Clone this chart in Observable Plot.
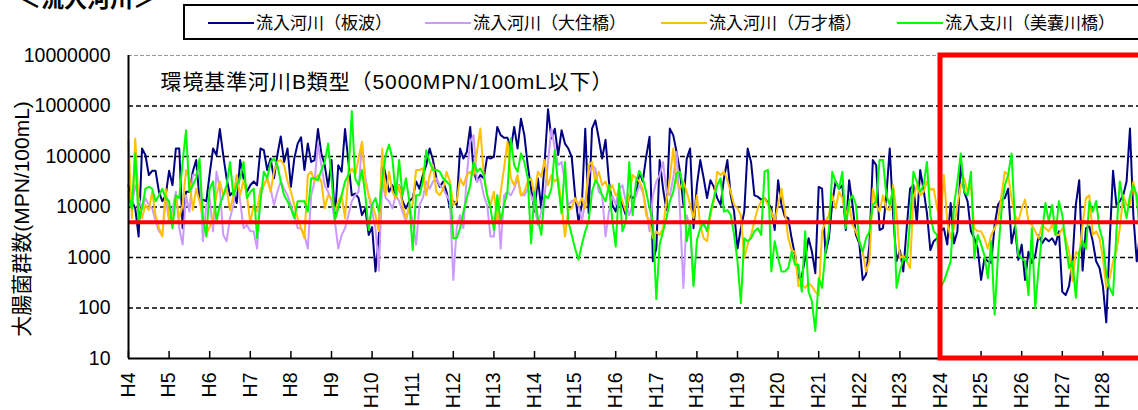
<!DOCTYPE html>
<html><head><meta charset="utf-8">
<script src="https://cdn.jsdelivr.net/npm/d3@7"></script>
<script src="https://cdn.jsdelivr.net/npm/@observablehq/plot@0.6"></script>
<style>
html,body{margin:0;padding:0;background:#fff;overflow:hidden;width:1138px;height:410px;}
#wrap{position:relative;width:1138px;height:410px;overflow:hidden;}
#chart{position:absolute;left:0;top:0;width:1150px;height:410px;}
#chart svg{max-width:none !important;width:1150px !important;height:410px !important;}
#title{position:absolute;left:18px;top:-14px;font-weight:bold;font-size:23px;font-family:"Noto Sans CJK JP";line-height:1;white-space:nowrap;}
#legend{position:absolute;left:183px;top:4px;width:1000px;height:36px;border:2px solid #000;box-sizing:border-box;background:#fff;}
.sw{position:absolute;top:16px;height:2px;width:46px;}
.lt{position:absolute;top:4px;font-family:"Noto Sans CJK JP";font-size:17px;line-height:24px;white-space:nowrap;}
</style></head>
<body><div id="wrap"><div id="chart"></div><div id="title">＜流入河川＞</div><div id="legend"></div></div>
<script>
// ---- data (monthly, from April of H4) ----
const seriesNames = ["流入河川（板波）", "流入河川（大住橋）", "流入河川（万才橋）", "流入支川（美嚢川橋）"];
const seriesColors = ["#000080", "#CC99FF", "#FFC000", "#00FF00"];

const itanami = [
27000,13000,9400,2600,144000,107000,43000,52000,52000,20000,13000,17000,
52000,27000,144000,144000,3800,20000,20000,50000,85000,14000,14000,13000,
46000,144000,107000,350000,107000,37000,17000,20000,12000,85000,37000,20000,
27000,32000,27000,144000,133000,54000,91000,37000,107000,250000,78000,144000,
25000,91000,180000,240000,54000,180000,78000,85000,350000,115000,67000,25000,
85000,6000,67000,50000,350000,78000,17000,18500,15000,6900,9400,2800,
4000,530,2800,
85000,43000,20000,27000,17000,27000,13000,9400,13000,15000,32000,
23000,43000,67000,144000,85000,37000,25000,32000,20000,9400,13000,11000,
144000,91000,123000,385000,50000,32000,43000,37000,98000,91000,98000,385000,
265000,235000,235000,144000,385000,144000,560000,265000,67000,23000,8100,37000,
9400,78000,860000,227000,355000,107000,330000,180000,144000,98000,17000,5200,
11000,355000,7500,355000,520000,227000,91000,215000,32000,11000,8100,17000,
11000,6900,
17000,15000,17000,50000,32000,98000,245000,840,1500,85000,
23000,8700,357000,265000,123000,50000,11000,91000,144000,3800,
27000,85000,37000,15000,34000,25000,15000,11000,37000,85000,
17000,8100,1500,3800,8100,144000,78000,17000,16000,14000,
15000,12000,9400,3500,34000,11000,6400,6000,2400,1100,
390,420,970,2400,1300,490,25000,23000,1200,2400,
12000,32000,23000,27000,3500,34000,11000,2800,1900,360,
460,1800,85000,67000,3500,
3800,17000,144000,6900,840,1400,530,3800,23000,27000,
4800,54000,22000,7500,1400,2100,2400,3300,3800,1800,
12000,1900,3300,78000,20000,13000,3300,2400,1500,360,
970,840,780,4400,11000,14000,15000,23000,1900,4100,
900,1800,360,1300,780,1100,2800,1900,2400,2100,
2400,1800,3300,210,180,270,840,11000,34000,550,
3800,4100,2100,840,620,270,52,2100,52000,11000,
13000,17000,32000,357000,6900,840,3000
];

const osumibashi = [
20000,11000,27000,15000,9400,15000,11000,9400,5200,3300,
2800,15000,5200,8700,20000,3800,1800,17000,8100,43000,
43000,67000,2100,11000,15000,3300,50000,23000,2800,2100,
6000,11000,43000,13000,3800,4400,3300,3300,1500,17000,
27000,37000,23000,11000,20000,32000,23000,17000,11000,6900,
3800,3800,2800,1500,17000,32000,180000,67000,27000,20000,
13000,5200,1500,2800,3800,6900,13000,17000,20000,195000,
37000,17000,8100,3800,550,
32000,15000,13000,9400,17000,13000,8100,5200,11000,5200,
1800,11000,15000,32000,23000,32000,37000,27000,23000,17000,
13000,360,3800,6900,3800,43000,195000,265000,32000,37000,
17000,11000,2600,2600,17000,1500,17000,20000,17000,23000,
37000,17000,17000,23000,17000,11000,4400,8100,17000,78000,
357000,144000,67000,78000,32000,11000,13000,14000,11000,5200,
13000,43000,67000,58000,20000,17000,2600,8100,17000,11000,
23000,27000,13000,
6900,11000,17000,27000,20000,9400,3300,17000,32000,43000,
78000,20000,17000,37000,123000,8100,250,6900,3800,290
];

const banzaibashi = [
200000,6000,227000,11000,6000,11000,8700,20000,6900,3800,
2600,23000,6000,5200,17000,6000,11000,54000,37000,8700,
23000,13000,6000,2800,4100,6000,17000,32000,17000,23000,
8700,17000,43000,17000,34000,17000,4800,11000,8100,23000,
27000,37000,20000,50000,78000,85000,67000,32000,20000,11000,
6000,3800,2400,43000,50000,32000,43000,32000,9400,17000,
15000,8100,13000,17000,6000,43000,58000,43000,91000,195000,
32000,17000,11000,6900,3300,
144000,17000,50000,20000,15000,27000,11000,6000,9400,11000,
54000,54000,58000,17000,43000,67000,20000,17000,23000,50000,
32000,11000,13000,37000,27000,43000,50000,43000,123000,357000,
43000,17000,11000,20000,5200,20000,58000,195000,37000,27000,
43000,17000,20000,32000,37000,17000,50000,40000,85000,27000,
43000,32000,37000,11000,2600,8700,9400,15000,11000,15000,
9400,67000,78000,32000,50000,27000,32000,20000,27000,17000,
20000,13000,8100,
17000,43000,37000,32000,23000,6900,5200,2400,3300,2800,
3800,13000,37000,144000,32000,23000,32000,20000,11000,6000,
17000,4400,2400,2100,6900,13000,50000,43000,50000,34000,
20000,11000,9400,6900,970,1800,2800,5200,9400,13000,
15000,11000,8100,5200,11000,23000,8100,2400,1400,1300,
270,290,250,310,270,210,180,3300,5200,6900,
17000,9400,20000,15000,6900,11000,4400,3300,2100,1300,
530,840,23000,11000,8100,
17000,9400,8700,27000,8100,970,1100,840,620,15000,
27000,17000,20000,32000,22000,23000,9400,5200,43000,5200,
2400,3800,11000,27000,37000,20000,27000,3800,3300,3300,
2400,1500,2800,3800,5200,17000,50000,43000,15000,6900,
5200,9400,14000,5200,4400,3300,2400,4400,3800,3300,
4400,2800,2800,3800,2400,1300,340,1300,1100,4400,
15000,17000,2800,3300,2400,970,250,390,840,1300,
3800,17000,11000,11000,32000,13000,6900
];

const minogawabashi = [
17000,9400,115000,5200,9400,23000,25000,23000,13000,17000,
23000,15000,13000,3800,17000,15000,78000,330000,20000,27000,
37000,91000,6000,2600,23000,32000,5200,11000,17000,27000,
78000,17000,27000,37000,78000,15000,20000,23000,2400,13000,
50000,37000,78000,91000,67000,32000,17000,13000,9400,6000,
13000,13000,13000,8100,37000,37000,34000,54000,78000,180000,
37000,5500,9400,17000,32000,43000,785000,37000,27000,54000,
17000,3500,11000,15000,8100,
32000,107000,172000,91000,17000,85000,17000,37000,13000,1400,
17000,17000,32000,133000,78000,54000,54000,50000,37000,32000,
27000,2400,2400,3800,8100,15000,27000,78000,50000,58000,
43000,17000,9400,3500,17000,5200,11000,20000,227000,67000,
50000,115000,78000,37000,1900,20000,6000,2800,17000,15000,
23000,133000,27000,7500,78000,5200,2800,1500,900,1800,
3300,5200,20000,34000,27000,17000,13000,27000,5500,1650,
29000,3300,5200,
78000,6900,32000,52000,37000,20000,9400,5200,150,1800,
3300,6000,13000,20000,46000,50000,23000,2100,4800,270,
2200,3800,4800,3300,8100,15000,27000,37000,8100,8700,
6900,2800,840,125,2400,2100,2400,3300,3800,2800,
50000,54000,530,2100,970,530,530,620,1300,720,
720,210,3300,210,135,35,390,250,1300,3300,
50000,32000,23000,50000,3800,13000,17000,11000,2100,1300,
2400,3300,11000,13000,85000,
85000,17000,11000,23000,250,530,970,840,5200,50000,
32000,20000,27000,78000,6900,3300,2800,250,340,530,
840,11000,32000,115000,20000,17000,50000,970,2800,1800,
1100,390,2100,74,1100,8100,27000,43000,115000,5200,
1100,970,840,180,3800,100,620,2800,12000,5200,
11000,2800,13000,6900,1800,620,840,160,1300,2100,
1500,13000,8100,13000,3800,2100,460,250,180,3300,
32000,13000,6000,17000,27000,17000,2100
];

const yearTicks = [4,5,6,7,8,9,10,11,12,13,14,15,16,17,18,19,20,21,22,23,24,25,26,27,28];
const yTicks = [10,100,1000,10000,100000,1000000,10000000];
const gridValues = [100,1000,10000,100000,1000000];
const topLine = [10000000];
const standardValue = [5000];
const highlight = [{from: 24, to: 29}];
const annotation = ["環境基準河川B類型（5000MPN/100mL以下）"];
const yTitle = ["大腸菌群数(MPN/100mL)"];
const xStart = 4; // H4 April

// ---- build table ----
const allSeries = [itanami, osumibashi, banzaibashi, minogawabashi];
const rows = allSeries.flatMap((vals, s) => vals.map((v, i) => ({series: seriesNames[s], t: xStart + i / 12, v})));

const tickFont = '"Liberation Sans", Arial, sans-serif';

const chart = Plot.plot({
  width: 1150, height: 410,
  marginLeft: 128, marginRight: 7, marginTop: 55, marginBottom: 52,
  style: {background: "#fff", overflow: "visible"},
  x: {domain: [4, 29], axis: null},
  y: {type: "log", domain: [10, 10000000], axis: null},
  color: {domain: seriesNames, range: seriesColors},
  marks: [
    Plot.ruleY(topLine, {stroke: "#999", strokeDasharray: "4,2", strokeWidth: 1.2}),
    Plot.ruleY(gridValues, {stroke: "#000", strokeDasharray: "5,3", strokeWidth: 1.3}),
    Plot.line(rows, {x: "t", y: "v", z: "series", stroke: "series", strokeWidth: 2, curve: "linear"}),
    Plot.ruleY(standardValue, {stroke: "#FF0000", strokeWidth: 4}),
    Plot.ruleX([4], {stroke: "#000", strokeWidth: 2}),
    Plot.ruleY([10], {stroke: "#000", strokeWidth: 2}),
    Plot.ruleX(yearTicks, {y1: 10, y2: 10, insetTop: -7, stroke: "#000", strokeWidth: 1.5}),
    Plot.rect(highlight, {x1: "from", x2: "to", y1: 10, y2: 10000000, fill: "none", stroke: "#FF0000", strokeWidth: 5}),
    Plot.axisX(yearTicks, {tickFormat: d => "H" + d, tickRotate: -90, tickSize: 0, tickPadding: 14, fontSize: 19.5, fontFamily: tickFont, label: null}),
    Plot.axisY(yTicks, {tickFormat: d => String(d), tickSize: 0, tickPadding: 18, fontSize: 19.5, fontFamily: tickFont, label: null}),
    Plot.text(annotation, {frameAnchor: "top-left", dx: 32, dy: 27, textAnchor: "start", lineAnchor: "middle", fontSize: 21, fontFamily: '"Liberation Sans", "Noto Sans CJK JP"', letterSpacing: "0.9px"}),
    Plot.text(yTitle, {frameAnchor: "left", dx: -106, dy: 12, rotate: -90, textAnchor: "middle", lineAnchor: "middle", fontSize: 21, fontFamily: '"Liberation Sans", "Noto Sans CJK JP"'})
  ]
});
chart.querySelectorAll("text").forEach(t => {
  if (t.closest('[aria-label="text"]') && t.textContent === annotation[0]) t.setAttribute("letter-spacing", "0.9");
});
document.getElementById("chart").appendChild(chart);

// ---- legend ----
const legendLefts = [208, 425, 661, 897];
const legend = document.getElementById("legend");
seriesNames.forEach((name, i) => {
  const sw = document.createElement("div");
  sw.className = "sw";
  sw.style.left = (legendLefts[i] - 185) + "px";
  sw.style.background = seriesColors[i];
  legend.appendChild(sw);
  const t = document.createElement("div");
  t.className = "lt";
  t.style.left = (legendLefts[i] - 185 + 48) + "px";
  t.textContent = name;
  legend.appendChild(t);
});
</script>
</body></html>
